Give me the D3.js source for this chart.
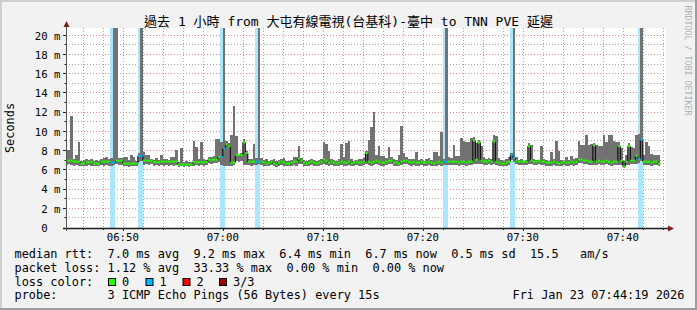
<!DOCTYPE html>
<html>
<head>
<meta charset="utf-8">
<script src="https://cdn.jsdelivr.net/npm/d3@7"></script>
<style>
  body { margin: 0; background: #f2f2f2; }
  svg text { font-family: "DejaVu Sans Mono", "Noto Sans CJK TC", monospace; white-space: pre; fill: #000; }
</style>
</head>
<body>
<div id="chart"></div>
<script>

// median rtt per 15s step (ms)
var med = [
  7.0, 7.0, 7.0, 6.9, 6.9, 6.9, 6.7, 6.7, 6.85, 6.85,
  6.85, 6.7, 6.7, 6.7, 6.9, 6.9, 6.9, 6.9, 6.8, 6.8,
  7.0, 7.0, 7.0, 6.7, 6.7, 6.7, 6.7, 6.7, 6.7, 7.5,
  7.5, 7.0, 7.0, 7.0, 7.0, 6.85, 6.85, 6.85, 6.9, 6.9,
  6.9, 6.9, 6.9, 6.9, 6.9, 6.6, 6.6, 6.6, 6.6, 6.6,
  6.6, 6.85, 6.85, 6.85, 6.85, 6.85, 6.85, 7.1, 7.1, 7.1,
  7.1, 7.4, 7.4, 8.3, 8.7, 8.5, 6.8, 6.8, 7.6, 7.6,
  7.6, 8.9, 7.8, 6.9, 6.9, 6.9, 6.9, 6.9, 6.9, 6.8,
  6.7, 6.8, 6.9, 6.7, 6.6, 6.8, 6.9, 6.8, 6.7, 6.7,
  6.8, 6.9, 6.9, 7.2, 7.0, 6.8, 6.7, 6.8, 6.9, 6.8,
  6.7, 6.8, 6.9, 7.1, 7.0, 6.8, 6.9, 6.8, 6.7, 6.8,
  6.9, 6.8, 6.8, 6.9, 6.7, 6.8, 6.9, 6.8, 6.8, 6.9,
  7.8, 6.9, 6.8, 6.9, 7.0, 6.9, 6.8, 6.8, 6.9, 7.0,
  7.0, 6.8, 6.8, 6.7, 6.9, 7.0, 7.0, 6.9, 6.8, 6.9,
  6.8, 6.8, 6.9, 6.8, 6.8, 6.9, 6.8, 6.7, 6.8, 6.9,
  6.8, 6.9, 6.9, 6.9, 6.9, 6.9, 6.9, 6.8, 6.9, 6.9,
  6.8, 6.9, 6.9, 9.1, 7.1, 8.9, 7.0, 6.9, 6.9, 7.0,
  6.9, 9.0, 6.9, 6.8, 6.7, 6.7, 6.8, 6.9, 7.6, 7.3,
  7.0, 6.9, 6.9, 6.9, 6.9, 8.5, 7.0, 6.9, 6.9, 7.0,
  6.9, 6.9, 6.8, 6.8, 6.8, 6.9, 6.8, 6.7, 6.8, 6.9,
  6.8, 6.8, 6.9, 6.8, 6.9, 7.1, 7.1, 7.0, 7.0, 6.9,
  6.9, 8.6, 6.9, 7.0, 6.9, 6.9, 7.0, 6.9, 6.8, 6.9,
  6.9, 8.5, 7.0, 6.4, 6.9, 8.5, 7.0, 7.0, 7.5, 7.2,
  9.2, 6.9, 6.9, 6.9, 6.8, 6.9, 6.9, 6.7
];

// fastest ping per step (ms)
var lo = [
  6.6, 6.7, 6.6, 6.5, 6.6, 6.5, 6.4, 6.5, 6.5, 6.6,
  6.5, 6.4, 6.5, 6.4, 6.6, 6.5, 6.6, 6.5, 6.5, 6.6,
  6.7, 6.6, 6.6, 6.4, 6.5, 6.3, 6.5, 6.4, 6.5, 6.9,
  7.0, 6.6, 6.7, 6.6, 6.7, 6.5, 6.6, 6.5, 6.6, 6.5,
  6.6, 6.5, 6.6, 6.5, 6.6, 6.3, 6.4, 6.3, 6.4, 6.3,
  6.4, 6.5, 6.6, 6.5, 6.6, 6.5, 6.6, 6.8, 6.7, 6.8,
  6.8, 6.9, 6.6, 6.5, 6.4, 6.5, 6.5, 6.6, 7.0, 6.9,
  7.0, 6.6, 6.6, 6.6, 6.5, 6.6, 6.6, 6.7, 6.6, 6.5,
  6.4, 6.5, 6.6, 6.4, 6.3, 6.5, 6.6, 6.5, 6.4, 6.4,
  6.5, 6.6, 6.5, 6.7, 6.7, 6.5, 6.4, 6.5, 6.6, 6.5,
  6.4, 6.5, 6.6, 6.7, 6.6, 6.5, 6.6, 6.5, 6.4, 6.5,
  6.6, 6.5, 6.5, 6.6, 6.4, 6.5, 6.6, 6.5, 6.5, 6.6,
  6.7, 6.6, 6.5, 6.6, 6.7, 6.6, 6.5, 6.5, 6.6, 6.7,
  6.7, 6.5, 6.5, 6.4, 6.6, 6.7, 6.7, 6.6, 6.5, 6.6,
  6.5, 6.5, 6.6, 6.5, 6.5, 6.6, 6.5, 6.4, 6.5, 6.6,
  6.5, 6.6, 6.6, 6.6, 6.6, 6.6, 6.6, 6.5, 6.6, 6.6,
  6.5, 6.6, 6.6, 6.7, 6.7, 6.7, 6.7, 6.6, 6.6, 6.7,
  6.6, 6.7, 6.6, 6.5, 6.4, 6.4, 6.5, 6.6, 7.1, 6.9,
  6.7, 6.6, 6.6, 6.6, 6.6, 6.7, 6.7, 6.6, 6.6, 6.7,
  6.6, 6.6, 6.5, 6.5, 6.5, 6.6, 6.5, 6.4, 6.5, 6.6,
  6.5, 6.5, 6.6, 6.5, 6.6, 6.8, 6.8, 6.7, 6.7, 6.6,
  6.6, 6.6, 6.6, 6.7, 6.6, 6.6, 6.7, 6.6, 6.5, 6.6,
  6.6, 6.6, 6.6, 6.2, 6.6, 6.6, 6.7, 6.7, 6.7, 6.8,
  7.0, 6.6, 6.6, 6.6, 6.5, 6.6, 6.6, 6.4
];

// slowest ping per step (ms)
var hi = [
  8.1, 8.1, 11.7, 7.2, 7.6, 8.9, 7.0, 7.1, 7.2, 7.1,
  7.2, 7.0, 7.1, 7.0, 7.2, 7.3, 7.4, 7.2, 7.3, 25,
  25, 7.3, 7.3, 7.4, 7.4, 7.1, 7.6, 7.4, 7.0, 7.8,
  25, 7.9, 7.6, 7.6, 7.2, 7.1, 7.3, 7.1, 7.6, 7.2,
  7.2, 7.1, 7.4, 7.4, 8.1, 6.9, 8.3, 6.9, 7.0, 6.9,
  6.9, 9.0, 8.4, 7.2, 8.9, 7.2, 7.1, 7.4, 7.4, 7.5,
  9.3, 9.3, 8.9, 25, 9.0, 8.8, 9.7, 12.7, 9.6, 7.7,
  7.8, 9.3, 8.0, 7.2, 7.2, 8.7, 7.3, 25, 7.3, 7.1,
  7.2, 7.0, 7.1, 7.2, 7.0, 7.1, 7.2, 7.3, 7.0, 7.0,
  7.1, 7.4, 7.4, 8.5, 7.3, 7.1, 7.0, 7.1, 7.2, 7.1,
  7.0, 7.1, 7.2, 8.9, 8.7, 8.0, 7.2, 7.1, 7.0, 7.2,
  8.7, 7.4, 8.8, 9.0, 7.2, 7.0, 7.1, 7.2, 7.2, 7.3,
  8.0, 9.2, 10.5, 12.1, 7.6, 8.5, 7.5, 7.5, 7.3, 8.4,
  7.4, 7.2, 7.1, 7.6, 10.6, 7.8, 7.4, 7.2, 7.2, 7.2,
  7.9, 7.1, 7.2, 7.0, 7.2, 7.3, 7.1, 7.9, 7.9, 7.5,
  10.0, 7.2, 25, 7.4, 7.3, 8.6, 7.5, 7.5, 9.4, 9.0,
  8.9, 8.9, 9.4, 9.5, 8.8, 9.2, 8.5, 7.4, 7.2, 7.3,
  7.2, 9.7, 9.6, 7.3, 7.1, 7.0, 7.2, 7.4, 7.8, 25,
  7.4, 7.1, 7.2, 7.0, 7.1, 8.8, 8.6, 7.2, 7.1, 7.0,
  8.5, 7.2, 7.1, 7.0, 7.9, 7.2, 9.1, 8.0, 7.1, 7.0,
  7.4, 7.1, 7.5, 7.2, 7.3, 9.1, 8.6, 8.6, 9.7, 8.6,
  8.7, 8.8, 8.6, 8.5, 8.5, 9.7, 8.9, 9.7, 9.7, 9.1,
  8.9, 8.9, 8.3, 7.0, 7.6, 8.8, 8.4, 8.3, 9.7, 9.8,
  25, 7.6, 8.9, 8.5, 7.7, 7.6, 7.6, 7.6
];

// steps where 1 of 3 pings was lost
var lossSteps = [18, 19, 29, 30, 62, 63, 76, 77, 151, 152, 178, 179, 229, 230];

var lossColors = ["#26ff00", "#00b8ff", "#ff0000", "#a10000"];
var lossLabels = ["0", "1", "2", "3/3"];
var lossBg = "#aae6fc";

var title = "過去 1 小時 from 大屯有線電視(台基科)-臺中 to TNN PVE 延遲";
var legendLines = [
  "median rtt:  7.0 ms avg  9.2 ms max  6.4 ms min  6.7 ms now  0.5 ms sd  15.5   am/s",
  "packet loss: 1.12 % avg  33.33 % max  0.00 % min  0.00 % now",
  "loss color:",
  "probe:       3 ICMP Echo Pings (56 Bytes) every 15s"
];
var stamp = "Fri Jan 23 07:44:19 2026";

var width = 697, height = 310;
var plotL = 66, plotR = 666, plotT = 28, plotB = 228;

var tStart = new Date(2026, 0, 23, 6, 44, 19);
var tEnd = new Date(2026, 0, 23, 7, 44, 19);
var firstStep = new Date(2026, 0, 23, 6, 44, 15);
var stepMs = 15000;

var x = d3.scaleTime().domain([tStart, tEnd]).range([plotL, plotR]);
var y = d3.scaleLinear().domain([0, 20.8]).range([plotB, plotT]);

var data = med.map(function(m, i) {
  return {
    t0: new Date(+firstStep + i * stepMs),
    t1: new Date(+firstStep + (i + 1) * stepMs),
    med: m, lo: lo[i], hi: hi[i],
    loss: lossSteps.indexOf(i) >= 0 ? 1 : 0
  };
});

var svg = d3.select("#chart").append("svg")
  .attr("width", width).attr("height", height);

// frame
svg.append("rect").attr("width", width).attr("height", height).attr("fill", "#f2f2f2");
svg.append("rect").attr("x", 0).attr("y", 0).attr("width", width).attr("height", 2).attr("fill", "#cfcfcf");
svg.append("rect").attr("x", 0).attr("y", 0).attr("width", 2).attr("height", height).attr("fill", "#cfcfcf");
svg.append("rect").attr("x", 0).attr("y", height - 2).attr("width", width).attr("height", 2).attr("fill", "#9e9e9e");
svg.append("rect").attr("x", width - 2).attr("y", 0).attr("width", 2).attr("height", height).attr("fill", "#9e9e9e");

// canvas
svg.append("rect").attr("x", plotL).attr("y", plotT)
  .attr("width", plotR - plotL).attr("height", plotB - plotT).attr("fill", "#fff");

svg.append("clipPath").attr("id", "clip").append("rect")
  .attr("x", plotL).attr("y", plotT).attr("width", plotR - plotL).attr("height", plotB - plotT);

// grid
var minorT = x.ticks(d3.timeMinute.every(2));
var majorT = x.ticks(d3.timeMinute.every(10));
var yT = y.ticks(20).filter(function(d) { return d > 0; });

var grid = svg.append("g").attr("stroke-width", 1).attr("fill", "none");
grid.selectAll(".vmin").data(minorT.filter(function(t) { return t.getMinutes() % 10 !== 0; }))
  .enter().append("line")
  .attr("x1", function(d) { return Math.round(x(d)) + 0.5; })
  .attr("x2", function(d) { return Math.round(x(d)) + 0.5; })
  .attr("y1", plotT).attr("y2", plotB)
  .attr("stroke", "#a8a8a8").attr("stroke-dasharray", "1,2");
grid.selectAll(".hmin").data(yT.filter(function(d) { return d % 2 !== 0; }))
  .enter().append("line")
  .attr("y1", function(d) { return Math.round(y(d)) - 0.5; })
  .attr("y2", function(d) { return Math.round(y(d)) - 0.5; })
  .attr("x1", plotL).attr("x2", plotR)
  .attr("stroke", "#a8a8a8").attr("stroke-dasharray", "1,2");
grid.selectAll(".vmaj").data(majorT)
  .enter().append("line")
  .attr("x1", function(d) { return Math.round(x(d)) + 0.5; })
  .attr("x2", function(d) { return Math.round(x(d)) + 0.5; })
  .attr("y1", plotT).attr("y2", plotB)
  .attr("stroke", "#e98a8a").attr("stroke-dasharray", "1,2");
grid.selectAll(".hmaj").data(yT.filter(function(d) { return d % 2 === 0; }))
  .enter().append("line")
  .attr("y1", function(d) { return Math.round(y(d)) - 0.5; })
  .attr("y2", function(d) { return Math.round(y(d)) - 0.5; })
  .attr("x1", plotL).attr("x2", plotR)
  .attr("stroke", "#e98a8a").attr("stroke-dasharray", "1,2");

var plot = svg.append("g").attr("clip-path", "url(#clip)");

// loss background
plot.selectAll(".lossbg").data(data.filter(function(d) { return d.loss > 0; }))
  .enter().append("rect")
  .attr("x", function(d) { return x(d.t0); })
  .attr("width", function(d) { return x(d.t1) - x(d.t0); })
  .attr("y", plotT).attr("height", plotB - plotT)
  .attr("fill", lossBg).attr("shape-rendering", "crispEdges");

// smoke
plot.selectAll(".smoke").data(data)
  .enter().append("rect")
  .attr("x", function(d) { return x(d.t0); })
  .attr("width", function(d) { return x(d.t1) - x(d.t0); })
  .attr("y", function(d) { return y(d.hi); })
  .attr("height", function(d) { return y(d.lo) - y(d.hi); })
  .attr("fill", "#727272").attr("shape-rendering", "crispEdges");

// median
var pts = data.map(function(d) { return [x(d.t0), y(d.med)]; });
pts.push([x(data[data.length - 1].t1), y(data[data.length - 1].med)]);
plot.append("path")
  .attr("d", d3.line().curve(d3.curveStepAfter)(pts))
  .attr("fill", "none").attr("stroke", "#000").attr("stroke-width", 1);

plot.selectAll(".medseg").data(data)
  .enter().append("line")
  .attr("x1", function(d) { return x(d.t0); })
  .attr("x2", function(d) { return x(d.t1); })
  .attr("y1", function(d) { return y(d.med); })
  .attr("y2", function(d) { return y(d.med); })
  .attr("stroke", function(d) { return lossColors[d.loss]; })
  .attr("stroke-width", 2);

// axes
var axis = svg.append("g");
axis.append("line").attr("x1", 63).attr("x2", 669).attr("y1", plotB + 0.5).attr("y2", plotB + 0.5)
  .attr("stroke", "#1f1f1f").attr("stroke-width", 1.5);
axis.append("line").attr("x1", plotL + 0.5).attr("x2", plotL + 0.5).attr("y1", plotB + 3).attr("y2", 25)
  .attr("stroke", "#555").attr("stroke-width", 1);

axis.selectAll(".xt").data(minorT).enter().append("line")
  .attr("x1", function(d) { return Math.round(x(d)) + 0.5; })
  .attr("x2", function(d) { return Math.round(x(d)) + 0.5; })
  .attr("y1", plotB).attr("y2", function(d) { return d.getMinutes() % 10 === 0 ? plotB + 3 : plotB + 2; })
  .attr("stroke", "#1f1f1f");

axis.selectAll(".yt").data(yT).enter().append("line")
  .attr("y1", function(d) { return Math.round(y(d)) - 0.5; })
  .attr("y2", function(d) { return Math.round(y(d)) - 0.5; })
  .attr("x1", function(d) { return d % 2 === 0 ? plotL - 3 : plotL - 1.5; })
  .attr("x2", plotL)
  .attr("stroke", "#1f1f1f");

// arrows
svg.append("path").attr("d", "M" + (plotL + 0.5) + ",21 L" + (plotL - 2.5) + ",27 L" + (plotL + 3.5) + ",27 Z")
  .attr("fill", "#801f1f");
svg.append("path").attr("d", "M674," + (plotB + 0.5) + " L668," + (plotB - 2.5) + " L668," + (plotB + 3.5) + " Z")
  .attr("fill", "#801f1f");

// tick labels
svg.selectAll(".xl").data(majorT).enter().append("text")
  .attr("x", function(d) { return x(d); })
  .attr("y", 241)
  .attr("text-anchor", "middle")
  .style("font-size", "10.67px")
  .text(d3.timeFormat("%H:%M"));

svg.selectAll(".yl").data([0].concat(yT.filter(function(d) { return d % 2 === 0; })))
  .enter().append("text")
  .attr("x", 60.5)
  .attr("y", function(d) { return y(d); })
  .attr("dy", "0.36em")
  .attr("text-anchor", "end")
  .style("font-size", "10.67px")
  .text(function(d) { return d === 0 ? "0  " : d + " m"; });

svg.append("text")
  .attr("transform", "translate(14,128) rotate(-90)")
  .attr("text-anchor", "middle")
  .style("font-size", "11.9px")
  .text("Seconds");

svg.append("text")
  .attr("x", width / 2).attr("y", 26)
  .attr("text-anchor", "middle")
  .style("font-size", "13px")
  .text(title);

svg.append("text")
  .attr("transform", "translate(684.5,5.5) rotate(90)")
  .style("font-size", "8.3px")
  .style("fill", "#b0b0b0")
  .text("RRDTOOL / TOBI OETIKER");

// legend
var legendY = [258, 271.5, 285.5, 299];
svg.selectAll(".lg").data(legendLines).enter().append("text")
  .attr("x", 14.5)
  .attr("y", function(d, i) { return legendY[i]; })
  .style("font-size", "11.9px")
  .text(function(d) { return d; });

var boxX = [108, 145.5, 182.5, 219];
var lg = svg.selectAll(".lc").data(lossColors).enter().append("g");
lg.append("rect")
  .attr("x", function(d, i) { return boxX[i] + 0.5; })
  .attr("y", 278.5).attr("width", 7).attr("height", 7)
  .attr("fill", function(d) { return d; })
  .attr("stroke", "#000").attr("stroke-width", 1);
lg.append("text")
  .attr("x", function(d, i) { return boxX[i] + 14; })
  .attr("y", legendY[2])
  .style("font-size", "11.9px")
  .text(function(d, i) { return lossLabels[i]; });

svg.append("text")
  .attr("x", 512.5).attr("y", legendY[3])
  .style("font-size", "11.9px")
  .text(stamp);

</script>
</body>
</html>
